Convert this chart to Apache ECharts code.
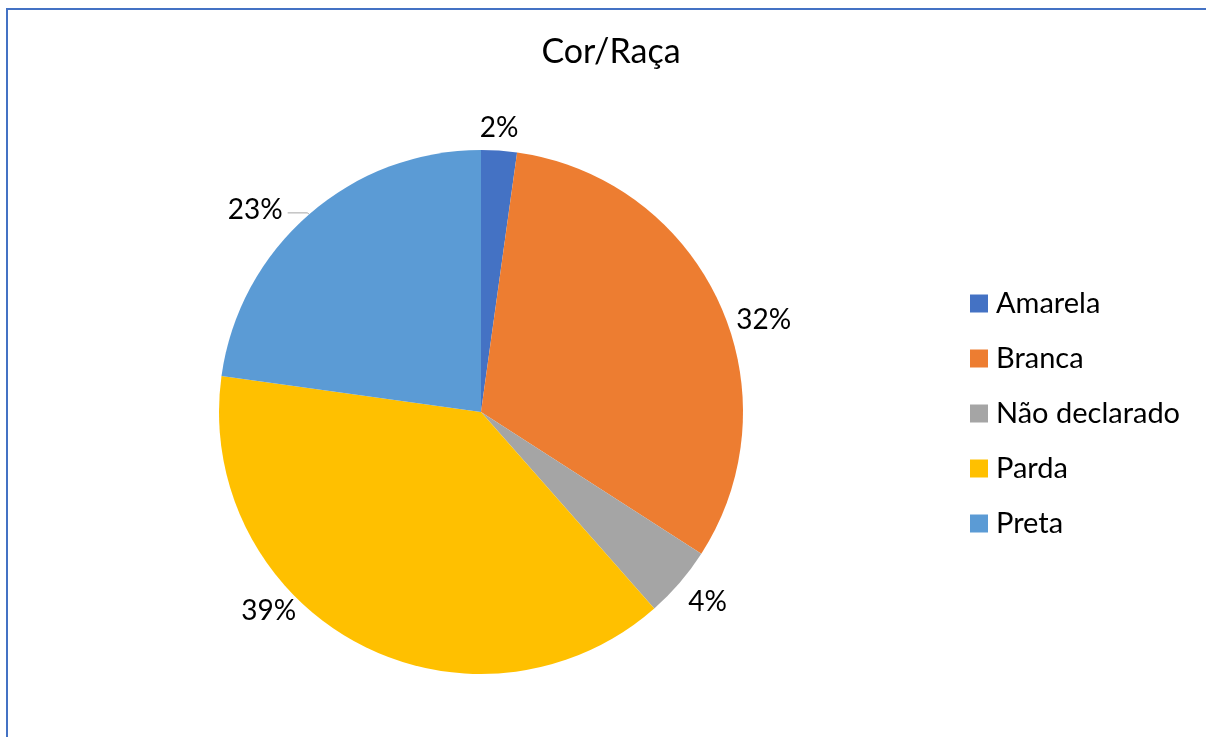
<!DOCTYPE html>
<html>
<head>
<meta charset="utf-8">
<script src="https://cdn.jsdelivr.net/npm/echarts@6/dist/echarts.min.js"></script>
<style>
  html, body { margin: 0; padding: 0; background: #fff; }
  #chart { width: 1206px; height: 737px; }
</style>
</head>
<body>
<div id="chart"></div>
<script>
// dados (percentuais aproximados)
const categories = ['Amarela', 'Branca', 'Não declarado', 'Parda', 'Preta']
const values = [2.2, 31.9, 4.4, 38.7, 22.8]
const colors = ['#4472C4', '#ED7D31', '#A5A5A5', '#FFC000', '#5B9BD5']

// pequenos ajustes das etiquetas, como no Excel (best fit)
const labelShift = [[-31, -13], [-3, 21], [-10, 13], [-45, -41], [0, -3]]

const chart = echarts.init(document.getElementById('chart'))
const font = 'Lato, "Open Sans", sans-serif'

chart.setOption({
  animation: false,
  color: colors,
  title: {
    text: 'Cor/Raça',
    left: 606,
    top: 30,
    textAlign: 'center',
    textStyle: { fontFamily: font, fontSize: 34, fontWeight: 'normal', color: '#000' }
  },
  legend: {
    orient: 'vertical',
    left: 970,
    top: 289,
    padding: 0,
    itemWidth: 18,
    itemHeight: 18,
    itemGap: 26,
    icon: 'rect',
    textStyle: { fontFamily: font, fontSize: 29, color: '#000', padding: [0, 0, 0, 3] },
    data: categories
  },
  graphic: [{
    type: 'rect',
    shape: { x: 7, y: 9, width: 1300, height: 800 },
    style: { fill: 'none', stroke: '#4472C4', lineWidth: 2 },
    silent: true
  }],
  series: [{
    type: 'pie',
    center: [481, 412],
    radius: 262,
    startAngle: 90,
    clockwise: true,
    data: categories.map((name, i) => ({
      name: name,
      value: values[i],
      labelLine: name === 'Preta' ? { show: true, length: 2, length2: 20 } : { show: false }
    })),
    label: {
      show: true,
      position: 'outside',
      formatter: p => Math.round(p.percent) + '%',
      fontFamily: font,
      fontSize: 28,
      color: '#000'
    },
    labelLine: {
      length: 10,
      length2: 6,
      lineStyle: { color: '#A5A5A5', width: 1 }
    },
    labelLayout: p => ({ dx: labelShift[p.dataIndex][0], dy: labelShift[p.dataIndex][1] }),
    itemStyle: { borderWidth: 0 }
  }]
})
</script>
</body>
</html>
